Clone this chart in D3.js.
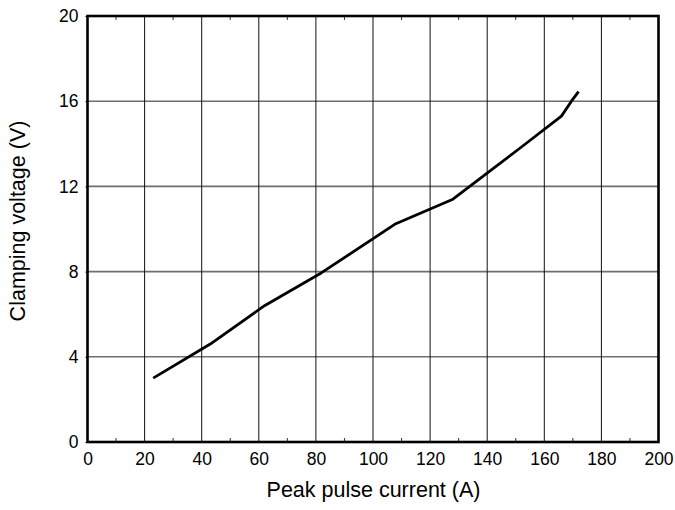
<!DOCTYPE html>
<html><head><meta charset="utf-8">
<script src="https://cdn.jsdelivr.net/npm/d3@7"></script>
<style>body{margin:0;background:#fff}svg{display:block}text{font-family:"Liberation Sans",Arial,sans-serif}</style>
</head><body><svg id="c" width="675" height="510"></svg>
<script>
const currentA = [23, 43, 62, 82, 108, 128, 152, 166, 169.5, 172];
const voltageV = [3.0, 4.6, 6.4, 7.95, 10.25, 11.4, 13.85, 15.3, 16.0, 16.45];
const xTicks = [0,20,40,60,80,100,120,140,160,180,200];
const yTicks = [0,4,8,12,16,20];
const xMinor = [10,30,50,70,90,110,130,150,170,190];

const svg = d3.select("#c");
const L=87.5, R=658.5, T=16, B=442;
const x = d3.scaleLinear().domain([0,200]).range([L,R]);
const y = d3.scaleLinear().domain([0,20]).range([B,T]);

// horizontal grid
svg.append("g").selectAll("line").data(yTicks.slice(1,-1)).join("line")
  .attr("x1",L).attr("x2",R).attr("y1",d=>y(d)).attr("y2",d=>y(d))
  .attr("stroke","#6e6e6e").attr("stroke-width",1.6);
// vertical grid
svg.append("g").selectAll("line").data(xTicks.slice(1,-1)).join("line")
  .attr("y1",T).attr("y2",B).attr("x1",d=>x(d)).attr("x2",d=>x(d))
  .attr("stroke","#111").attr("stroke-width",1);
// minor ticks
svg.append("g").selectAll("line").data(xMinor).join("line")
  .attr("x1",d=>x(d)).attr("x2",d=>x(d)).attr("y1",B).attr("y2",B-4)
  .attr("stroke","#333").attr("stroke-width",1);
svg.append("g").selectAll("line").data(xMinor).join("line")
  .attr("x1",d=>x(d)).attr("x2",d=>x(d)).attr("y1",T).attr("y2",T+4)
  .attr("stroke","#333").attr("stroke-width",1);

// axes labels via d3 axes
const xa = svg.append("g").attr("transform",`translate(0,${B})`)
  .call(d3.axisBottom(x).tickValues(xTicks).tickSize(0).tickPadding(11).tickFormat(d3.format("d")));
xa.select(".domain").remove();
xa.selectAll("text").attr("font-size",17.5).attr("fill","#000").style("font-family","'Liberation Sans',Arial,sans-serif");
const ya = svg.append("g").attr("transform",`translate(${L},0)`)
  .call(d3.axisLeft(y).tickValues(yTicks).tickSize(2).tickPadding(7).tickFormat(d3.format("d")));
ya.select(".domain").remove();
ya.selectAll("line").attr("stroke","#000");
ya.selectAll("text").attr("font-size",17.5).attr("fill","#000").style("font-family","'Liberation Sans',Arial,sans-serif");

// line
svg.append("path").datum(currentA.map((d,i)=>[d,voltageV[i]]))
  .attr("d",d3.line().x(d=>x(d[0])).y(d=>y(d[1])))
  .attr("fill","none").attr("stroke","#000").attr("stroke-width",2.8).attr("stroke-linejoin","round");

// frame
svg.append("rect").attr("x",L).attr("y",T).attr("width",R-L).attr("height",B-T)
  .attr("fill","none").attr("stroke","#000").attr("stroke-width",2.6);

svg.append("text").attr("x",373.5).attr("y",497).attr("text-anchor","middle")
  .attr("font-size",21.5).text("Peak pulse current (A)");
svg.append("text").attr("transform",`translate(25,221) rotate(-90)`).attr("text-anchor","middle")
  .attr("font-size",21.5).text("Clamping voltage (V)");
</script></body></html>
